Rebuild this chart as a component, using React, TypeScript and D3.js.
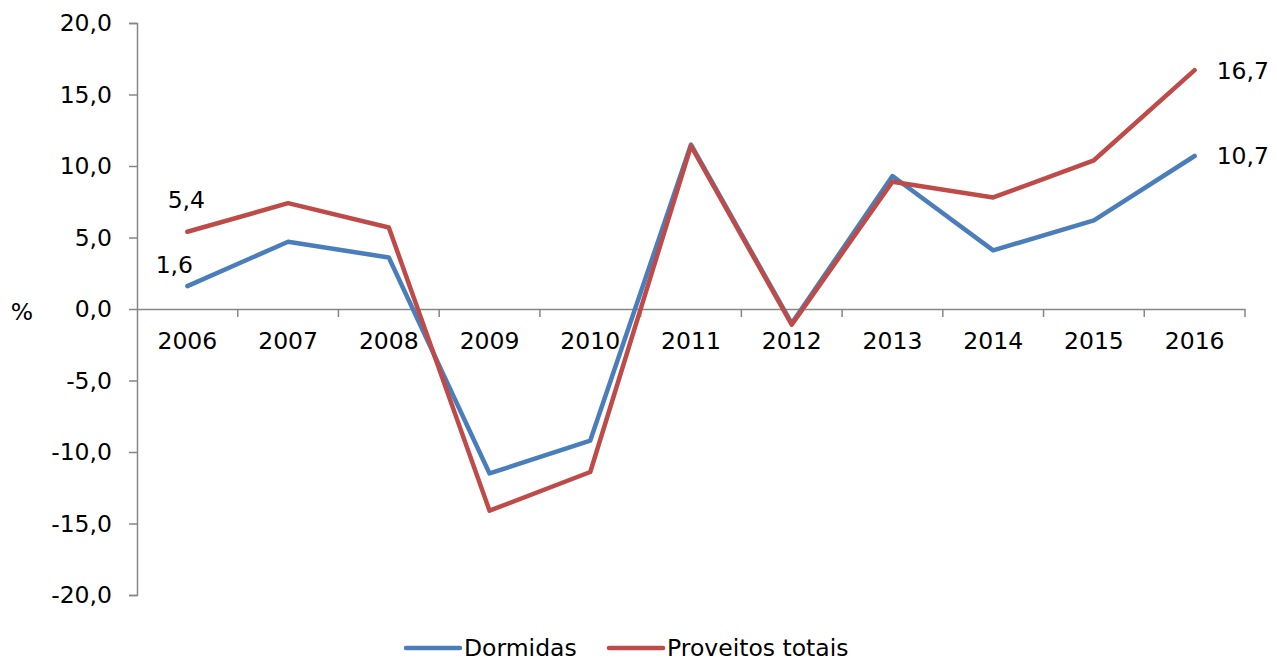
import { useEffect, useRef } from 'react'
import * as d3 from 'd3'

const years = ['2006', '2007', '2008', '2009', '2010', '2011', '2012', '2013', '2014', '2015', '2016']
const dormidas = [1.6, 4.7, 3.6, -11.5, -9.2, 11.5, -1.0, 9.3, 4.1, 6.2, 10.7]
const proveitos = [5.4, 7.4, 5.7, -14.1, -11.4, 11.4, -1.1, 8.9, 7.8, 10.4, 16.7]
const yTicks = [-20, -15, -10, -5, 0, 5, 10, 15, 20]

const FONT = '"DejaVu Sans", sans-serif'
const FS = 23.5

export default function App() {
  const ref = useRef<SVGSVGElement>(null)

  useEffect(() => {
    const svg = d3.select(ref.current)
    svg.selectAll('*').remove()

    const left = 137, right = 1245, top = 23, bottom = 595

    const x = d3.scaleBand().domain(years).range([left, right])
    const y = d3.scaleLinear().domain([-20, 20]).range([bottom, top])
    const cx = (d: string) => (x(d) as number) + x.bandwidth() / 2

    const fmt = (v: number) => v.toFixed(1).replace('.', ',')

    // y axis
    const yAxis = svg.append('g')
      .attr('transform', `translate(${left},0)`)
      .call(d3.axisLeft(y).tickValues(yTicks).tickSize(8).tickPadding(17).tickFormat(d => fmt(d as number)))
    yAxis.select('.domain').attr('stroke', '#868686').attr('stroke-width', 1.5)
    yAxis.selectAll('.tick line').attr('stroke', '#868686').attr('stroke-width', 1.5)
    yAxis.selectAll('.tick text').attr('font-size', FS).attr('font-family', FONT).attr('fill', '#000')

    // x axis at zero
    const xAxis = svg.append('g')
      .attr('transform', `translate(0,${y(0)})`)
      .call(d3.axisBottom(x).tickSize(0).tickPadding(23))
    xAxis.select('.domain').attr('stroke', '#868686').attr('stroke-width', 1.5)
    xAxis.selectAll('.tick text').attr('font-size', FS).attr('font-family', FONT).attr('fill', '#000')

    // category boundary ticks
    svg.append('g').selectAll('line')
      .data(years.slice(1).concat(['end']))
      .enter().append('line')
      .attr('x1', (d, i) => i < years.length - 1 ? (x(d) as number) : right)
      .attr('x2', (d, i) => i < years.length - 1 ? (x(d) as number) : right)
      .attr('y1', y(0))
      .attr('y2', y(0) + 8)
      .attr('stroke', '#868686')
      .attr('stroke-width', 1.5)

    svg.append('text')
      .attr('x', 22).attr('y', y(0) + 4)
      .attr('text-anchor', 'middle').attr('dominant-baseline', 'middle')
      .attr('font-size', FS).attr('font-family', FONT)
      .text('%')

    const series = [
      { name: 'Dormidas', values: dormidas, color: '#4A7EBB' },
      { name: 'Proveitos totais', values: proveitos, color: '#BE4B48' },
    ]

    const line = d3.line<number>()
      .x((_, i) => cx(years[i]))
      .y(d => y(d))

    series.forEach(s => {
      svg.append('path')
        .datum(s.values)
        .attr('fill', 'none')
        .attr('stroke', s.color)
        .attr('stroke-width', 4.5)
        .attr('stroke-linejoin', 'round')
        .attr('stroke-linecap', 'round')
        .attr('d', line)
    })

    // data labels for first and last points
    const last = years.length - 1
    const labels = [
      { v: dormidas[0], xPos: cx(years[0]) - 13, yPos: y(dormidas[0]) - 20, anchor: 'middle' },
      { v: proveitos[0], xPos: cx(years[0]) - 1, yPos: y(proveitos[0]) - 30, anchor: 'middle' },
      { v: dormidas[last], xPos: cx(years[last]) + 22, yPos: y(dormidas[last]) + 2, anchor: 'start' },
      { v: proveitos[last], xPos: cx(years[last]) + 22, yPos: y(proveitos[last]) + 2, anchor: 'start' },
    ]
    svg.append('g').selectAll('text')
      .data(labels)
      .enter().append('text')
      .attr('x', d => d.xPos)
      .attr('y', d => d.yPos)
      .attr('text-anchor', d => d.anchor)
      .attr('dominant-baseline', 'middle')
      .attr('font-size', FS)
      .attr('font-family', FONT)
      .text(d => fmt(d.v))

    // legend
    const legend = svg.append('g')
    const legendX = [406, 609]
    series.forEach((s, i) => {
      legend.append('line')
        .attr('x1', legendX[i]).attr('x2', legendX[i] + 54)
        .attr('y1', 648).attr('y2', 648)
        .attr('stroke', s.color).attr('stroke-width', 4.5)
        .attr('stroke-linecap', 'round')
      legend.append('text')
        .attr('x', legendX[i] + 58).attr('y', 649)
        .attr('dominant-baseline', 'middle')
        .attr('font-size', FS).attr('font-family', FONT)
        .text(s.name)
    })
  }, [])

  return (
    <svg ref={ref} width={1277} height={664}
      style={{ position: 'absolute', left: 0, top: 0, background: '#fff' }} />
  )
}
